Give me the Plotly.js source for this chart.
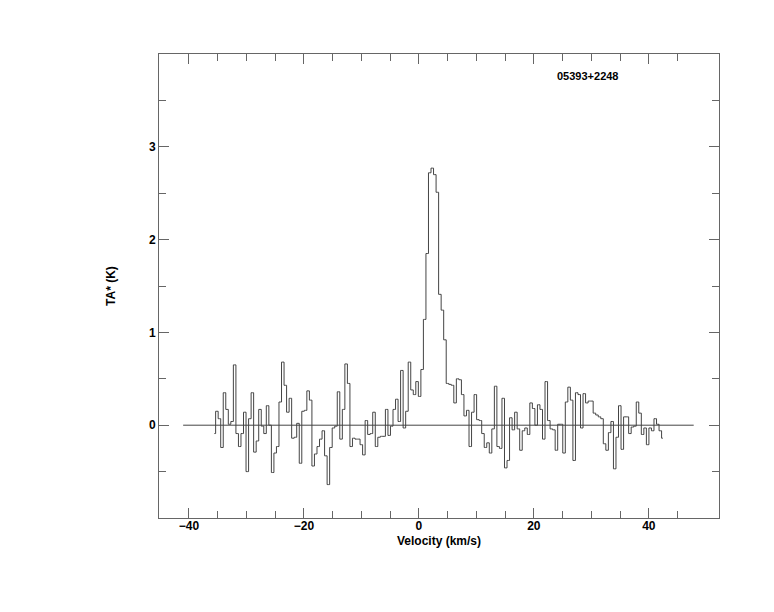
<!DOCTYPE html>
<html>
<head>
<meta charset="utf-8">
<script src="https://cdn.plot.ly/plotly-3.0.1.min.js"></script>
<style>html,body{margin:0;padding:0;background:#fff;}#chart{width:774px;height:612px;}</style>
</head>
<body>
<div id="chart"></div>
<script>
// Spectrum channel grid (km/s)
const velocityStart = -35.57;
const channelWidth = 0.4407;
// Antenna temperature TA* (K) per channel
const taValues = [
  -0.09, 0.15, 0.07, -0.24, 0.35, 0.17, 0.01, 0.04, 0.65, -0.09,
  -0.23, -0.09, 0.14, -0.50, 0.07, 0.35, -0.29, -0.17, 0.17, -0.01,
  -0.09, 0.21, 0.00, -0.51, -0.30, -0.23, 0.25, 0.68, 0.43, 0.14,
  0.29, -0.14, -0.13, 0.02, -0.41, 0.15, 0.16, 0.37, 0.27,
  -0.44, -0.31, -0.23, -0.15, -0.06, -0.33, -0.64, -0.24, -0.03, -0.01,
  0.36, -0.15, 0.17, 0.66, 0.45, -0.23, -0.14, -0.15, -0.15, -0.21,
  -0.32, 0.05, -0.10, -0.09, 0.14, -0.23, -0.13, -0.12, -0.12, 0.17,
  -0.11, -0.01, 0.17, 0.28, 0.04, 0.59, -0.03, 0.15, 0.68, 0.38,
  0.33, 0.47, 0.31, 0.60,
  1.14, 1.85, 2.72, 2.77, 2.70, 2.51, 1.41, 1.24, 0.92,
  0.45, 0.44, 0.43, 0.24, 0.50, 0.49, 0.33, 0.10, 0.16, -0.23,
  0.14, 0.33, 0.06, 0.05, -0.09, -0.24, -0.19, -0.30, -0.04, 0.42,
  -0.23, -0.25, 0.29, -0.46, -0.38, 0.08, -0.05, 0.14, -0.04, -0.27,
  -0.06, -0.03, -0.10, 0.24, 0.18, 0.00, 0.22, 0.17, -0.15, 0.47,
  0.05, -0.04, -0.05,
  -0.27, 0.01, 0.01, -0.30, 0.25, 0.41, 0.27, -0.38, 0.35, 0.33,
  -0.03, 0.34, 0.24, 0.26, 0.26, 0.13, 0.11, 0.09, 0.07, -0.20,
  -0.27,
  -0.08, 0.04, -0.47, -0.13, 0.21, -0.26, 0.09, 0.09, -0.09, -0.02,
  -0.01, 0.25, 0.13, -0.10, -0.03, -0.21, -0.03, -0.06, 0.07, 0.01,
  -0.06, -0.14
];
const velocities = taValues.map((_, i) => velocityStart + i * channelWidth);
const baselineVelocities = [-41.0, 47.8];
const baselineLevel = [0, 0];
const xTickValues = [-40, -20, 0, 20, 40];
const xMinorTickValues = [-35, -30, -25, -15, -10, -5, 5, 10, 15, 25, 30, 35, 45];
const yTickValues = [0, 1, 2, 3];
const yMinorTickValues = [-0.5, 0.5, 1.5, 2.5, 3.5];
const sourceName = '05393+2248';
const xTitle = 'Velocity (km/s)';
const yTitle = 'TA* (K)';

const fontFamily = 'Liberation Sans, Arial, Helvetica, sans-serif';
const fontBold = {family: fontFamily, size: 12, color: '#000', weight: 'bold'};

const traces = [
  {
    x: baselineVelocities, y: baselineLevel, mode: 'lines', type: 'scatter',
    line: {color: '#444', width: 1}, hoverinfo: 'skip', showlegend: false
  },
  {
    x: velocities, y: taValues, mode: 'lines', type: 'scatter',
    line: {color: '#444', width: 1, shape: 'hvh'}, showlegend: false
  }
];

const layout = {
  width: 774, height: 612,
  margin: {l: 159, r: 55, t: 54, b: 94, pad: 0},
  paper_bgcolor: '#fff', plot_bgcolor: '#fff',
  font: fontBold,
  showlegend: false,
  xaxis: {
    range: [-45.2, 52.2],
    tickmode: 'array', tickvals: xTickValues,
    ticks: 'inside', ticklen: 10, tickwidth: 1, tickcolor: '#666',
    minor: {tickmode: 'array', tickvals: xMinorTickValues, ticks: 'inside', ticklen: 7, tickwidth: 1, tickcolor: '#666', showgrid: false},
    showline: true, linecolor: '#666', linewidth: 1, mirror: 'allticks',
    showgrid: false, zeroline: false,
    tickfont: fontBold,
    ticklabelstandoff: -3
  },
  yaxis: {
    range: [-1, 4],
    tickmode: 'array', tickvals: yTickValues,
    ticks: 'inside', ticklen: 10, tickwidth: 1, tickcolor: '#666',
    minor: {tickmode: 'array', tickvals: yMinorTickValues, ticks: 'inside', ticklen: 7, tickwidth: 1, tickcolor: '#666', showgrid: false},
    showline: true, linecolor: '#666', linewidth: 1, mirror: 'allticks',
    showgrid: false, zeroline: false,
    tickfont: fontBold,
    title: {text: yTitle, font: fontBold, standoff: 30}
  },
  annotations: [
    {
      text: sourceName, xref: 'paper', yref: 'paper', x: 0.707, y: 0.953,
      xanchor: 'left', yanchor: 'middle', showarrow: false,
      font: {family: fontFamily, size: 11, color: '#000', weight: 'bold'}
    },
    {
      text: xTitle, xref: 'paper', yref: 'paper', x: 0.5, y: -0.05,
      xanchor: 'center', yanchor: 'middle', showarrow: false,
      font: fontBold
    }
  ]
};

Plotly.newPlot('chart', traces, layout, {displayModeBar: false, staticPlot: true});
</script>
</body>
</html>
